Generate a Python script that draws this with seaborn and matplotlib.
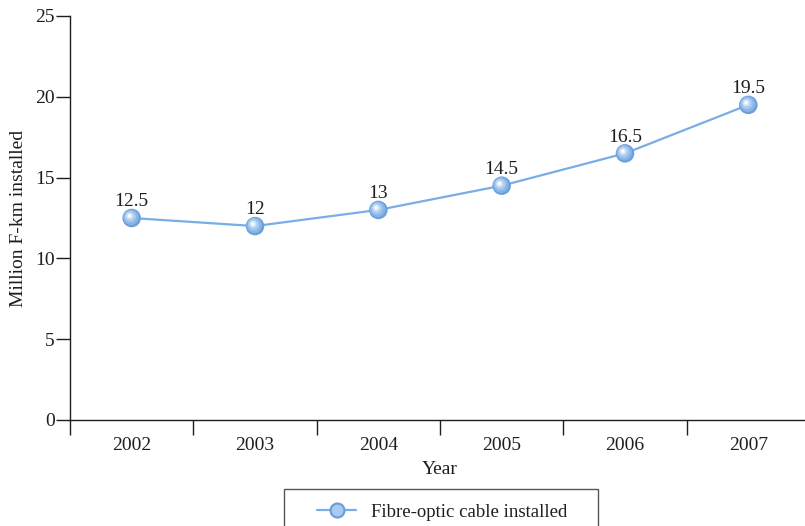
import matplotlib
matplotlib.use("Agg")
import matplotlib.pyplot as plt
import seaborn as sns
import pandas as pd
import numpy as np
from matplotlib.transforms import offset_copy
from matplotlib.lines import Line2D
from matplotlib.patches import Rectangle

years = ["2002", "2003", "2004", "2005", "2006", "2007"]
installed = [12.5, 12, 13, 14.5, 16.5, 19.5]
value_labels = ["12.5", "12", "13", "14.5", "16.5", "19.5"]
series_name = "Fibre-optic cable installed"

sns.set_theme(style="white")
plt.rcParams["font.family"] = ["Liberation Serif", "DejaVu Serif"]
plt.rcParams["font.size"] = 14

line_color = "#78aee3"
ink = "#1e1e1e"

df = pd.DataFrame({"Year": years, "Installed": installed})
df["pos"] = np.arange(len(years))

fig = plt.figure(figsize=(8.05, 5.26), dpi=100)
ax = fig.add_axes([70 / 805, 1 - 420 / 526, 740 / 805, 404 / 526])

sns.lineplot(data=df, x="pos", y="Installed", ax=ax, color=line_color,
             linewidth=1.6, zorder=2, legend=False)

# glossy sphere markers built from stacked discs
layers = [(18.5, "#6b9fda", (0, 0)), (15.5, "#88b5e8", (-0.5, 0.5)),
          (11.5, "#a9caef", (-1.0, 1.0)), (7, "#d3e5f8", (-1.4, 1.4)),
          (3.2, "#ffffff", (-1.6, 1.6))]
for size, col, (dx, dy) in layers:
    tr = offset_copy(ax.transData, fig=fig, x=dx, y=dy, units="points")
    ax.scatter(df["pos"], df["Installed"], s=size ** 2 * 0.52, color=col,
               edgecolor="none", zorder=3, transform=tr)

for x, y, t in zip(df["pos"], df["Installed"], value_labels):
    ax.annotate(t, (x, y), xytext=(0, 5.5), textcoords="offset points",
                ha="center", va="bottom", fontsize=14, color=ink)

ax.set_xlim(-0.5, 5.5)
ax.set_ylim(0, 25)
ax.set_xticks(np.arange(-0.5, 6, 1))
ax.set_xticklabels([])
ax.set_xticks(np.arange(len(years)), minor=True)
ax.set_xticklabels(years, minor=True)
ax.tick_params(axis="x", which="major", direction="out", length=11, width=1,
               color=ink, bottom=True)
ax.tick_params(axis="x", which="minor", length=0, pad=12, labelsize=14,
               labelcolor=ink)
ax.set_yticks([0, 5, 10, 15, 20, 25])
ax.tick_params(axis="y", direction="out", length=10, width=1, color=ink,
               left=True, labelsize=14, labelcolor=ink, pad=1)

for s in ["top", "right"]:
    ax.spines[s].set_visible(False)
for s in ["left", "bottom"]:
    ax.spines[s].set_color(ink)
    ax.spines[s].set_linewidth(1)

ax.set_xlabel("Year", fontsize=14, color=ink, labelpad=5)
ax.set_ylabel("Million F-km installed", fontsize=14, color=ink, labelpad=6)
ax.grid(False)

# legend with a handle mirroring the sphere marker
handle = Line2D([0], [0], color=line_color, linewidth=1.6, marker="o",
                markersize=10, markerfacecolor="#a9cbef",
                markeredgecolor="#6b9fda", markeredgewidth=1.6)
leg = fig.legend([handle], [series_name], loc="center left",
                 bbox_to_anchor=(317 / 805, 1 - 512 / 526), frameon=False,
                 fontsize=13.5, handlelength=2.1, borderpad=0,
                 handletextpad=0.8, borderaxespad=0)
for txt in leg.get_texts():
    txt.set_color(ink)

# legend frame, running off the lower edge of the figure
fig.patches.append(Rectangle((284 / 805, -0.05), 314 / 805, 0.05 + 37 / 526,
                             transform=fig.transFigure, fill=False,
                             edgecolor="#555555", linewidth=1))

fig.savefig("out.png", dpi=100)
